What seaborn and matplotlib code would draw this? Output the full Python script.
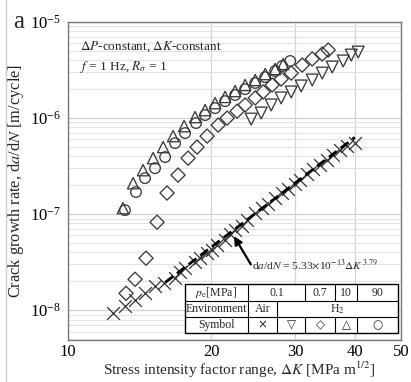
import numpy as np
import pandas as pd
import matplotlib
matplotlib.use("Agg")
import matplotlib.pyplot as plt
import seaborn as sns
from matplotlib.lines import Line2D
from matplotlib.patches import Rectangle
from matplotlib.ticker import FixedLocator, LogLocator, LogFormatterSciNotation, NullLocator, NullFormatter

# ---------------- data ----------------
air_K = [12.43, 13.17, 13.83, 14.51, 15.23, 15.91, 16.78, 17.19, 17.61, 18.48, 18.94, 19.59,
         20.07, 20.56, 21.37, 21.89, 22.43, 23.20, 23.77, 24.72, 25.56, 26.32, 27.22, 28.16,
         29.00, 29.99, 30.72, 31.78, 32.71, 33.84, 35.00, 36.04, 37.28, 38.57, 40.08]
air_rate = [9.31e-9, 1.10e-8, 1.27e-8, 1.50e-8, 1.78e-8, 1.91e-8, 2.15e-8, 2.49e-8, 2.74e-8,
            3.16e-8, 3.48e-8, 3.93e-8, 4.22e-8, 4.75e-8, 5.36e-8, 6.19e-8, 6.81e-8, 7.50e-8,
            8.66e-8, 1.02e-7, 1.15e-7, 1.27e-7, 1.47e-7, 1.66e-7, 1.82e-7, 2.05e-7, 2.26e-7,
            2.61e-7, 2.94e-7, 3.24e-7, 3.65e-7, 4.12e-7, 4.64e-7, 5.11e-7, 5.50e-7]

h01_K = [24.24, 25.44, 26.70, 28.02, 29.41, 30.87, 32.56, 34.17, 35.86, 37.81, 39.31, 40.66]
h01_rate = [9.76e-7, 1.13e-6, 1.37e-6, 1.62e-6, 1.87e-6, 2.16e-6, 2.49e-6, 2.94e-6, 3.40e-6,
            3.93e-6, 4.53e-6, 4.87e-6]

h07_K = [13.24, 13.83, 14.58, 15.38, 16.14, 17.02, 17.87, 18.66, 19.59, 20.66, 21.58, 22.65,
         23.54, 24.72, 25.69, 26.83, 28.02, 29.41, 31.02, 32.56, 34.17, 35.17]
h07_rate = [1.50e-8, 2.10e-8, 3.48e-8, 8.25e-8, 1.66e-7, 2.55e-7, 3.83e-7, 4.99e-7, 6.49e-7,
            8.45e-7, 1.00e-6, 1.18e-6, 1.37e-6, 1.62e-6, 1.87e-6, 2.21e-6, 2.55e-6, 2.94e-6,
            3.56e-6, 4.12e-6, 4.64e-6, 5.11e-6]

h10_K = [13.04, 13.70, 14.37, 15.09, 15.84, 16.62, 17.53, 18.48, 19.40, 20.36, 21.37, 22.43,
         23.54, 24.72, 25.94, 27.22, 28.30]
h10_rate = [1.155e-7, 2.10e-7, 2.87e-7, 3.83e-7, 4.99e-7, 6.49e-7, 8.25e-7, 1.024e-6, 1.21e-6,
            1.43e-6, 1.66e-6, 1.91e-6, 2.21e-6, 2.49e-6, 2.87e-6, 3.24e-6, 3.65e-6]

h90_K = [13.17, 13.89, 14.51, 15.23, 15.99, 16.78, 17.61, 18.57, 19.40, 20.36, 21.37, 22.43,
         23.54, 24.72, 25.94, 27.22, 28.16, 29.27]
h90_rate = [1.10e-7, 1.70e-7, 2.37e-7, 3.01e-7, 3.93e-7, 5.49e-7, 6.98e-7, 8.87e-7, 1.075e-6,
            1.27e-6, 1.50e-6, 1.74e-6, 2.00e-6, 2.32e-6, 2.67e-6, 3.09e-6, 3.48e-6, 3.93e-6]

fit_K = [16.0, 40.0]
fit_rate = [1.95e-8, 6.30e-7]

x_ticks = [10, 20, 30, 40, 50]
pressures = ["0.1", "0.7", "10", "90"]
symbols = ["\u00d7", "\u25bd", "\u25c7", "\u25b3", "\u25cb"]

# ---------------- style ----------------
sns.set_style("white")
plt.rcParams["font.family"] = ["Liberation Serif", "DejaVu Serif"]
plt.rcParams["mathtext.fontset"] = "stix"

W, H = 411, 382
fig = plt.figure(figsize=(W / 100, H / 100), dpi=100)
AX_L, AX_R, AX_T, AX_B = 68, 401, 22, 340
ax = fig.add_axes([AX_L / W, 1 - AX_B / H, (AX_R - AX_L) / W, (AX_B - AX_T) / H])

def fx(px):
    return px / W

def fy(py):
    return 1 - py / H

# ---------------- marks ----------------
sns.lineplot(x=fit_K, y=fit_rate, ax=ax, color="black", lw=2.0, zorder=4,
             linestyle=(0, (3.5, 1.8)))

sns.scatterplot(x=air_K, y=air_rate, ax=ax, marker="x", s=85, color="#333333",
                linewidth=0.9, zorder=3)
hollow = dict(facecolor="none", edgecolor="#3a3a3a", linewidth=0.95, zorder=3)
sns.scatterplot(x=h01_K, y=h01_rate, ax=ax, marker="v", s=72, **hollow)
sns.scatterplot(x=h07_K, y=h07_rate, ax=ax, marker="D", s=52, **hollow)
sns.scatterplot(x=h10_K, y=h10_rate, ax=ax, marker="^", s=66, **hollow)
sns.scatterplot(x=h90_K, y=h90_rate, ax=ax, marker="o", s=58, **hollow)

# ---------------- axes ----------------
ax.set_xscale("log")
ax.set_yscale("log")
ax.set_xlim(10, 50)
ax.set_ylim(4.9e-9, 1e-5)
ax.xaxis.set_major_locator(FixedLocator(x_ticks))
ax.xaxis.set_major_formatter(plt.FuncFormatter(lambda v, p: f"{v:g}"))
ax.xaxis.set_minor_locator(NullLocator())
ax.xaxis.set_minor_formatter(NullFormatter())
ax.yaxis.set_major_locator(LogLocator(base=10, numticks=10))
ax.yaxis.set_minor_locator(LogLocator(base=10, subs=np.arange(2, 10), numticks=20))
ax.yaxis.set_major_formatter(LogFormatterSciNotation())
ax.yaxis.set_minor_formatter(NullFormatter())
ax.tick_params(axis="both", which="both", length=0, labelsize=12, colors="black")
ax.tick_params(axis="x", pad=3)
ax.tick_params(axis="y", pad=5)
ax.grid(True, which="major", axis="both", color="#d2d2d2", lw=0.9, zorder=0)
ax.grid(True, which="minor", axis="y", color="#e2e2e2", lw=0.8, zorder=0)
ax.set_axisbelow(True)
for side, sp in ax.spines.items():
    sp.set_color("#7a7a7a")
    sp.set_linewidth(1.0)

ax.set_xlabel(r"Stress intensity factor range, $\Delta K$ [MPa m$^{1/2}$]", fontsize=11, labelpad=4)
ax.xaxis.set_label_coords((239 - AX_L) / (AX_R - AX_L), -(370 - AX_B) / (AX_B - AX_T))
ax.xaxis.label.set_va("center")
ax.set_ylabel(r"Crack growth rate, d$a$/d$N$ [m/cycle]", fontsize=11.8, labelpad=3)

# ---------------- annotations ----------------
fig.text(fx(13), fy(22), "a", fontsize=18, ha="left", va="center")
ax.text((80 - AX_L) / (AX_R - AX_L), (AX_B - 47) / (AX_B - AX_T),
        r"$\Delta P$-constant, $\Delta K$-constant", transform=ax.transAxes,
        fontsize=9.5, ha="left", va="center")
ax.text((80 - AX_L) / (AX_R - AX_L), (AX_B - 67) / (AX_B - AX_T),
        r"$f$ = 1 Hz, $R_\sigma$ = 1", transform=ax.transAxes,
        fontsize=9.5, ha="left", va="center")

ax.annotate("", xy=(22.3, 5.9e-8), xytext=(24.2, 3.0e-8),
            arrowprops=dict(arrowstyle="-|>", color="black", lw=1.6,
                            mutation_scale=12, shrinkA=0, shrinkB=0), zorder=6)
ax.text(24.3, 3.0e-8, r"d$a$/d$N$ = 5.33$\times$10$^{-13}$$\Delta K^{\,3.79}$",
        fontsize=8.2, ha="left", va="center", zorder=6)

# fig left border line
fig.add_artist(Line2D([fx(6), fx(6)], [0, 1], color="#cccccc", lw=1.0))

# ---------------- table ----------------
x0, c1, c2, c3, c4, c5, x1 = 185, 248, 277, 305, 335, 357, 398
y0, r1, r2, y1 = 284, 301, 317, 333
fig.add_artist(Rectangle((fx(x0), fy(y1)), fx(x1) - fx(x0), fy(y0) - fy(y1),
                         facecolor="white", edgecolor="black", lw=1.0, zorder=7))

def hline(y, xa, xb):
    fig.add_artist(Line2D([fx(xa), fx(xb)], [fy(y), fy(y)], color="black", lw=0.8, zorder=8))

def vline(x, ya, yb):
    fig.add_artist(Line2D([fx(x), fx(x)], [fy(ya), fy(yb)], color="black", lw=0.8, zorder=8))

hline(r1, x0, x1)
hline(r2, x0, x1)
for c in [c1, c3, c4, c5]:
    vline(c, y0, r1)
vline(c1, r1, r2)
vline(c2, r1, r2)
for c in [c1, c2, c3, c4, c5]:
    vline(c, r2, y1)

def cell(x, y, s, **kw):
    fig.text(fx(x), fy(y), s, ha="center", va="center", fontsize=8.5, zorder=9, **kw)

ym1, ym2, ym3 = (y0 + r1) / 2, (r1 + r2) / 2, (r2 + y1) / 2
cell((x0 + c1) / 2, ym1, r"$p_{\rm e}$[MPa]")
cell((c1 + c3) / 2, ym1, pressures[0])
cell((c3 + c4) / 2, ym1, pressures[1])
cell((c4 + c5) / 2, ym1, pressures[2])
cell((c5 + x1) / 2, ym1, pressures[3])
cell((x0 + c1) / 2, ym2, "Environment")
cell((c1 + c2) / 2, ym2, "Air")
cell((c2 + x1) / 2, ym2, r"H$_2$")
cell((x0 + c1) / 2, ym3, "Symbol")
centers = [(c1 + c2) / 2, (c2 + c3) / 2, (c3 + c4) / 2, (c4 + c5) / 2, (c5 + x1) / 2]
for cx, sym in zip(centers, symbols):
    cell(cx, ym3, sym, family=["DejaVu Sans"])

fig.savefig("out.png", dpi=100)
